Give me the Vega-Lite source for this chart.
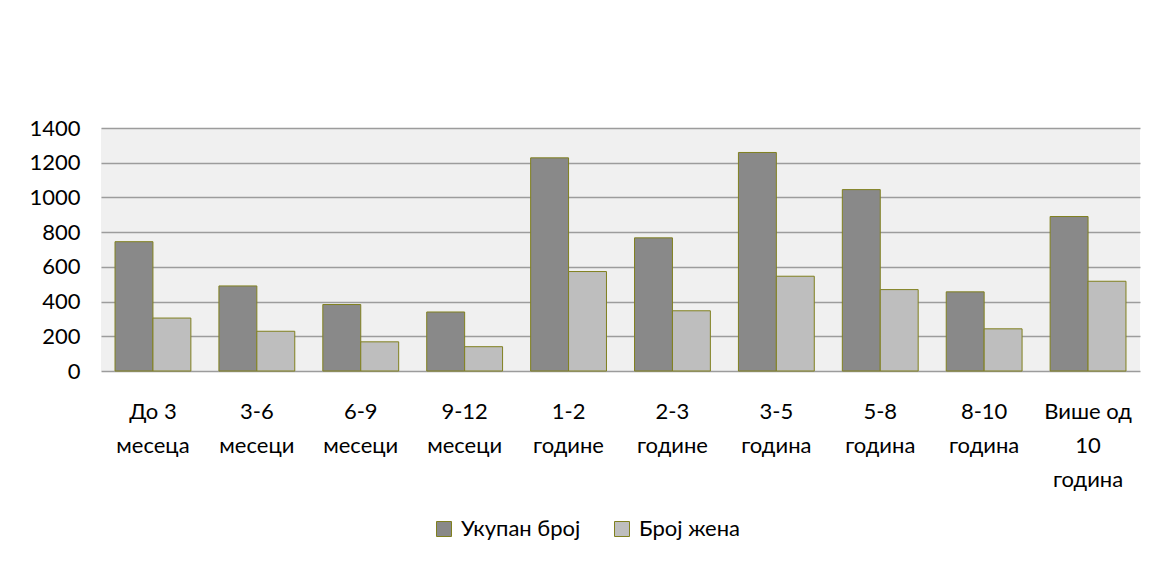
{
  "$schema": "https://vega.github.io/schema/vega-lite/v6.json",
  "autosize": "none",
  "width": 1039,
  "height": 243,
  "padding": {"left": 101, "top": 128, "right": 16, "bottom": 191},
  "background": "white",
  "config": {
    "font": "Lato",
    "view": {"stroke": null, "fill": "#f0f0f0"}
  },
  "data": {
    "values": [
      {"period": "До 3|месеца", "series": "Укупан број", "value": 745},
      {"period": "До 3|месеца", "series": "Број жена", "value": 305},
      {"period": "3-6|месеци", "series": "Укупан број", "value": 490},
      {"period": "3-6|месеци", "series": "Број жена", "value": 229},
      {"period": "6-9|месеци", "series": "Укупан број", "value": 383},
      {"period": "6-9|месеци", "series": "Број жена", "value": 168},
      {"period": "9-12|месеци", "series": "Укупан број", "value": 340},
      {"period": "9-12|месеци", "series": "Број жена", "value": 140},
      {"period": "1-2|године", "series": "Укупан број", "value": 1228},
      {"period": "1-2|године", "series": "Број жена", "value": 573},
      {"period": "2-3|године", "series": "Укупан број", "value": 767},
      {"period": "2-3|године", "series": "Број жена", "value": 347},
      {"period": "3-5|година", "series": "Укупан број", "value": 1259},
      {"period": "3-5|година", "series": "Број жена", "value": 546},
      {"period": "5-8|година", "series": "Укупан број", "value": 1045},
      {"period": "5-8|година", "series": "Број жена", "value": 469},
      {"period": "8-10|година", "series": "Укупан број", "value": 456},
      {"period": "8-10|година", "series": "Број жена", "value": 243},
      {"period": "Више од|10|година", "series": "Укупан број", "value": 890},
      {"period": "Више од|10|година", "series": "Број жена", "value": 517}
    ]
  },
  "mark": {"type": "bar", "stroke": "#80801f", "strokeWidth": 1},
  "encoding": {
    "x": {
      "field": "period",
      "type": "nominal",
      "sort": null,
      "scale": {"paddingInner": 0.27, "paddingOuter": 0.135},
      "axis": {
        "title": null,
        "labelAngle": 0,
        "labelExpr": "split(datum.label, '|')",
        "labelFontSize": 22,
        "labelColor": "#000000",
        "labelLineHeight": 34,
        "labelPadding": 30,
        "labelBaseline": "top",
        "ticks": false,
        "domain": false,
        "labelLimit": 200
      }
    },
    "xOffset": {
      "field": "series",
      "type": "nominal",
      "scale": {"domain": ["Укупан број", "Број жена"], "paddingInner": 0, "paddingOuter": 0}
    },
    "y": {
      "field": "value",
      "type": "quantitative",
      "scale": {"domain": [0, 1400], "nice": false},
      "axis": {
        "title": null,
        "values": [0, 200, 400, 600, 800, 1000, 1200, 1400],
        "format": "d",
        "labelFontSize": 22,
        "labelColor": "#000000",
        "labelPadding": 21,
        "ticks": false,
        "domain": false,
        "grid": true,
        "gridColor": "#9c9c9c",
        "gridWidth": 1.3
      }
    },
    "color": {
      "field": "series",
      "type": "nominal",
      "scale": {"domain": ["Укупан број", "Број жена"], "range": ["#898989", "#bebebe"]},
      "legend": {
        "title": null,
        "orient": "none",
        "legendX": 332,
        "legendY": 390,
        "direction": "horizontal",
        "symbolType": "square",
        "symbolSize": 225,
        "symbolStrokeColor": "#80801f",
        "symbolStrokeWidth": 1,
        "symbolOpacity": 1,
        "labelFontSize": 22,
        "labelColor": "#000000",
        "columnPadding": 30,
        "labelOffset": 6
      }
    }
  }
}
